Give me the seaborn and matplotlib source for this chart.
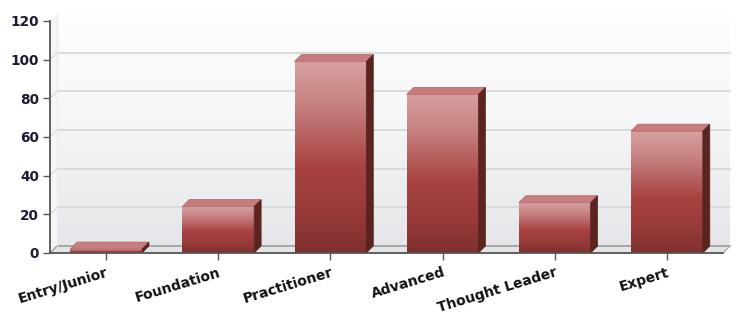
import numpy as np
import pandas as pd
import matplotlib
matplotlib.use("Agg")
import matplotlib.pyplot as plt
from matplotlib.patches import Polygon, Rectangle
from matplotlib.colors import LinearSegmentedColormap
import seaborn as sns

categories = ["Entry/Junior", "Foundation", "Practitioner", "Advanced", "Thought Leader", "Expert"]
values = [2, 24, 99, 82, 26, 63]
yticks = [0, 20, 40, 60, 80, 100, 120]

sns.set_theme(style="white")
plt.rcParams["font.family"] = ["DejaVu Sans"]

W, H = 736, 316
fig = plt.figure(figsize=(W / 100, H / 100), dpi=100)
ax = fig.add_axes([50 / W, 63 / H, 673 / W, 232 / H])

df = pd.DataFrame({"category": categories, "value": values})
sns.barplot(data=df, x="category", y="value", color="#a84141", width=0.64,
            ax=ax, zorder=5, saturation=1)

n = len(categories)
ax.set_xlim(-0.5, n - 0.5)
ax.set_ylim(0, 120)
ax.set_xlabel("")
ax.set_ylabel("")

# depth offset in data units (7 px)
pxx = 673 / n
pxy = 232 / 120
dx = 7 / pxx
dy = 7 / pxy

# back wall gradient
wall_cmap = LinearSegmentedColormap.from_list("wall", ["#fefefe", "#f4f5f6", "#e5e6e9"])
grad = np.linspace(0, 1, 256).reshape(-1, 1)
ax.imshow(grad, cmap=wall_cmap, aspect="auto",
          extent=(-0.5 + dx, n - 0.5 + dx, 0 + dy, 120 + dy),
          origin="upper", zorder=0, clip_on=False)
# floor
floor = Polygon([(-0.5, 0), (-0.5 + dx, dy), (n - 0.5 + dx, dy), (n - 0.5, 0)], closed=True,
                facecolor="#e3e4e7", edgecolor="none", zorder=1, clip_on=False)
ax.add_patch(floor)
# left side wall
lwall = Polygon([(-0.5, 0), (-0.5 + dx, dy), (-0.5 + dx, 120 + dy), (-0.5, 120)],
                closed=True, facecolor="#f6f6f7", edgecolor="none", zorder=1, clip_on=False)
ax.add_patch(lwall)

# gridlines on back wall
for v in yticks[1:-1]:
    ax.plot([-0.5 + dx, n - 0.5 + dx], [v + dy, v + dy],
            color="#d9dadc", lw=1.4, zorder=2, clip_on=False)
    ax.plot([-0.5, -0.5 + dx], [v, v + dy], color="#dcdddf", lw=1.0, zorder=2, clip_on=False)
ax.plot([-0.5 + dx, n - 0.5 + dx], [dy, dy], color="#9c9c9c", lw=1.2, zorder=2, clip_on=False)
ax.plot([-0.5, -0.5 + dx], [0, dy], color="#9c9c9c", lw=1.0, zorder=2, clip_on=False)
ax.plot([-0.5 + dx, -0.5 + dx], [dy, 120 + dy], color="#ececee", lw=1.0, zorder=2, clip_on=False)
ax.plot([n - 0.5, n - 0.5 + dx], [0, dy], color="#b0b0b0", lw=1.0, zorder=2, clip_on=False)

# bar 3D styling
bar_cmap = LinearSegmentedColormap.from_list(
    "bar", [(0.0, "#d7a0a0"), (0.2, "#c98585"), (0.55, "#a84242"), (0.8, "#973a3a"), (1.0, "#7e2f2f")])
for p in list(ax.patches):
    if not isinstance(p, Rectangle) or p.get_height() <= 0 or p.get_width() > 1:
        continue
    x, w, h = p.get_x(), p.get_width(), p.get_height()
    p.set_facecolor("none")
    p.set_edgecolor("none")
    im = ax.imshow(grad, cmap=bar_cmap, aspect="auto", extent=(x, x + w, 0, h),
                   origin="upper", zorder=5)
    im.set_clip_path(p)
    top = Polygon([(x, h), (x + dx, h + dy), (x + w + dx, h + dy), (x + w, h)], closed=True,
                  facecolor="#c77d7d", edgecolor="#b56a6a", lw=0.6, zorder=6, clip_on=False)
    side = Polygon([(x + w, 0), (x + w + dx, dy), (x + w + dx, h + dy), (x + w, h)], closed=True,
                   facecolor="#5a2421", edgecolor="#5a2421", lw=0.5, zorder=6, clip_on=False)
    ax.add_patch(top)
    ax.add_patch(side)

ax.set_xlim(-0.5, n - 0.5)
ax.set_ylim(0, 120)

# axes styling
for s in ["top", "right"]:
    ax.spines[s].set_visible(False)
for s in ["left", "bottom"]:
    ax.spines[s].set_color("#555555")
    ax.spines[s].set_linewidth(1.3)
    ax.spines[s].set_zorder(10)
ax.set_facecolor("none")
fig.patch.set_facecolor("white")

ax.set_yticks(yticks)
ax.set_yticklabels([str(t) for t in yticks], fontsize=9.8, fontweight="bold", color="#1a1a33")
ax.set_xticks(range(n))
ax.set_xticklabels(categories, rotation=17, ha="right", rotation_mode="anchor",
                   fontsize=10, fontweight="bold", color="#111111")
ax.tick_params(axis="both", which="both", length=5, width=1, color="#555555",
               bottom=True, left=True, direction="out")
ax.tick_params(axis="x", pad=4)
ax.tick_params(axis="y", pad=3)

fig.savefig("out.png", dpi=100)
